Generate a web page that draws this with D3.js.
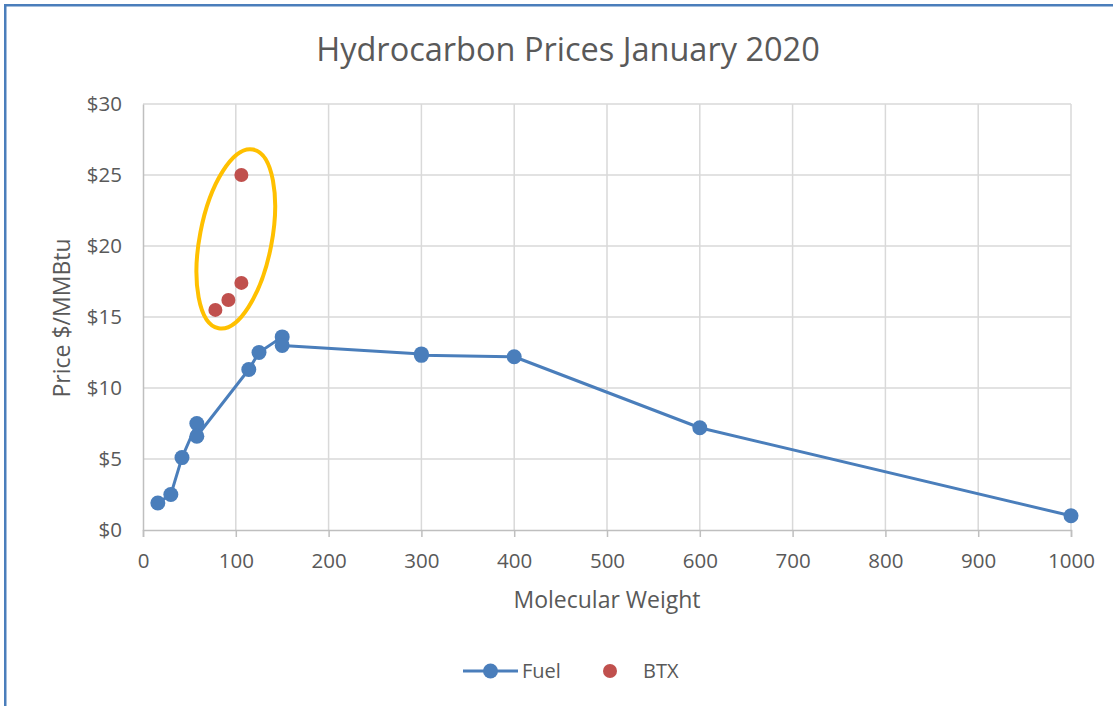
<!DOCTYPE html>
<html>
<head>
<meta charset="utf-8">
<script src="https://cdn.jsdelivr.net/npm/d3@7"></script>
<style>
  html, body { margin: 0; padding: 0; background: #fff; }
  svg { display: block; font-family: "Open Sans", sans-serif; }
</style>
</head>
<body>
<div id="chart"></div>
<script>
// Fuel series (molecular weight, $/MMBtu), in line order
const fuelMW    = [16, 30, 42, 58, 58, 114, 125, 150, 150, 300, 300, 400, 600, 1000];
const fuelPrice = [1.9, 2.5, 5.1, 7.5, 6.6, 11.3, 12.5, 13.6, 13.0, 12.4, 12.3, 12.2, 7.2, 1.0];

// BTX points
const btxMW    = [78, 92, 106, 106];
const btxPrice = [15.5, 16.2, 17.4, 25.0];

const xTicks = [0, 100, 200, 300, 400, 500, 600, 700, 800, 900, 1000];
const yTicks = [0, 5, 10, 15, 20, 25, 30];

// highlight ellipse around the BTX group (centre in data units)
const ringCenter = { mw: 100, price: 20.5 };

const W = 1113, H = 706;
const blue = '#4a7ebb', red = '#c0504d', textCol = '#595959';

const svg = d3.select('#chart').append('svg')
    .attr('width', W)
    .attr('height', H);

svg.append('rect').attr('width', W).attr('height', H).attr('fill', '#fff');

// frame around the chart object
svg.append('path')
    .attr('d', `M5.25,${H} V5.25 H${W}`)
    .attr('fill', 'none')
    .attr('stroke', blue)
    .attr('stroke-width', 2.5);

const x = d3.scaleLinear().domain([0, 1000]).range([143, 1071]);
const y = d3.scaleLinear().domain([0, 30]).range([530, 104]);

// gridlines
svg.append('g')
    .selectAll('line.vgrid')
    .data(xTicks.slice(1))
    .enter().append('line')
    .attr('x1', d => x(d)).attr('x2', d => x(d))
    .attr('y1', y(30)).attr('y2', y(0))
    .attr('stroke', '#d9d9d9')
    .attr('stroke-width', 1.5);

svg.append('g')
    .selectAll('line.hgrid')
    .data(yTicks.slice(1))
    .enter().append('line')
    .attr('x1', x(0)).attr('x2', x(1000))
    .attr('y1', d => y(d)).attr('y2', d => y(d))
    .attr('stroke', '#d9d9d9')
    .attr('stroke-width', 1.5);

// axes
const xAxis = svg.append('g')
    .attr('transform', `translate(0, ${y(0)})`)
    .call(d3.axisBottom(x).tickValues(xTicks).tickSize(7).tickPadding(16).tickFormat(d3.format('d')));

const yAxis = svg.append('g')
    .attr('transform', `translate(${x(0)}, 0)`)
    .call(d3.axisLeft(y).tickValues(yTicks).tickSize(0).tickPadding(21).tickFormat(d => '$' + d));

[xAxis, yAxis].forEach(a => {
    a.select('.domain').attr('stroke', '#bfbfbf').attr('stroke-width', 1.5);
    a.selectAll('.tick line').attr('stroke', '#bfbfbf').attr('stroke-width', 1.5);
    a.selectAll('.tick text')
        .attr('fill', textCol)
        .style('font-size', '20.5px')
        .style('font-family', '"Open Sans", sans-serif');
});

// title and axis titles
svg.append('text')
    .attr('x', 568).attr('y', 61)
    .attr('text-anchor', 'middle')
    .attr('fill', textCol)
    .style('font-size', '32.5px')
    .text('Hydrocarbon Prices January 2020');

svg.append('text')
    .attr('x', 607).attr('y', 608)
    .attr('text-anchor', 'middle')
    .attr('fill', textCol)
    .style('font-size', '23px')
    .text('Molecular Weight');

svg.append('text')
    .attr('transform', 'translate(62, 318) rotate(-90)')
    .attr('dy', '0.35em')
    .attr('text-anchor', 'middle')
    .attr('fill', textCol)
    .style('font-size', '23px')
    .text('Price $/MMBtu');

// Fuel line + markers
const fuel = fuelMW.map((m, i) => ({ mw: m, price: fuelPrice[i] }));
const btx = btxMW.map((m, i) => ({ mw: m, price: btxPrice[i] }));

const line = d3.line()
    .x(d => x(d.mw))
    .y(d => y(d.price));

svg.append('path')
    .datum(fuel)
    .attr('fill', 'none')
    .attr('stroke', blue)
    .attr('stroke-width', 3)
    .attr('stroke-linejoin', 'round')
    .attr('d', line);

svg.selectAll('.fuel-dot')
    .data(fuel)
    .enter().append('circle')
    .attr('class', 'fuel-dot')
    .attr('cx', d => x(d.mw))
    .attr('cy', d => y(d.price))
    .attr('r', 7.5)
    .attr('fill', blue);

svg.selectAll('.btx-dot')
    .data(btx)
    .enter().append('circle')
    .attr('class', 'btx-dot')
    .attr('cx', d => x(d.mw))
    .attr('cy', d => y(d.price))
    .attr('r', 7)
    .attr('fill', red);

// orange ring
svg.append('ellipse')
    .attr('transform', `translate(${x(ringCenter.mw)}, ${y(ringCenter.price)}) rotate(10.9)`)
    .attr('rx', 36)
    .attr('ry', 91)
    .attr('fill', 'none')
    .attr('stroke', '#ffc000')
    .attr('stroke-width', 4);

// legend
const lg = svg.append('g').attr('transform', 'translate(0, 671)');
lg.append('line')
    .attr('x1', 463).attr('x2', 518)
    .attr('stroke', blue).attr('stroke-width', 3);
lg.append('circle').attr('cx', 490.5).attr('r', 7.5).attr('fill', blue);
lg.append('text')
    .attr('x', 522).attr('dy', '0.35em')
    .attr('fill', textCol).style('font-size', '20px')
    .text('Fuel');
lg.append('circle').attr('cx', 610).attr('r', 7).attr('fill', red);
lg.append('text')
    .attr('x', 643).attr('dy', '0.35em')
    .attr('fill', textCol).style('font-size', '20px')
    .text('BTX');
</script>
</body>
</html>
